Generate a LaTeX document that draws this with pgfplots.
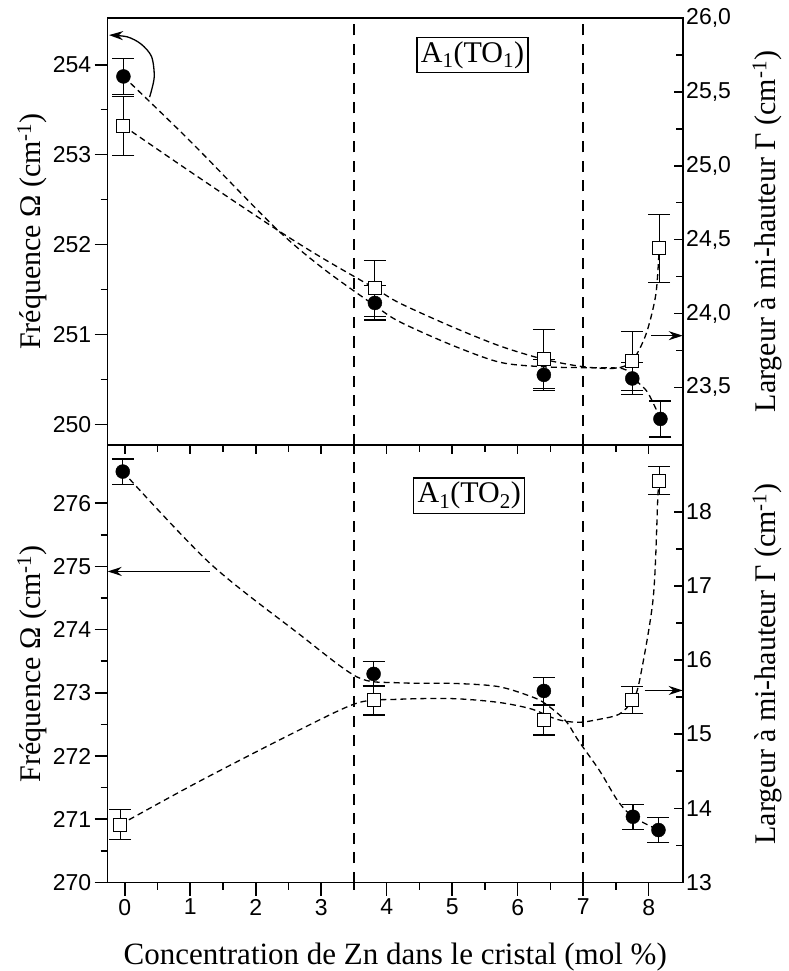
\documentclass[border=0pt]{standalone}
\usepackage{fontspec}
\setmainfont{Liberation Serif}
\newfontfamily\tickfont{Liberation Sans}
\usepackage{pgfplots}
\pgfplotsset{compat=1.18}
\usetikzlibrary{arrows.meta}

\pgfplotstableread{
x y e
-0.02 253.87 0.20
3.82 251.35 0.19
6.40 250.55 0.17
7.75 250.51 0.18
8.18 250.06 0.20
}\topcirc
\pgfplotstableread{
x y e
-0.02 25.27 0.20
3.82 24.17 0.19
6.40 23.69 0.20
7.75 23.68 0.20
8.16 24.44 0.23
}\topsq
\pgfplotstableread{
x y e
-0.03 276.50 0.20
3.80 273.30 0.20
6.40 273.03 0.21
7.76 271.04 0.20
8.15 270.83 0.20
}\botcirc
\pgfplotstableread{
x y e
-0.07 13.78 0.20
3.80 15.46 0.20
6.40 15.19 0.20
7.75 15.46 0.18
8.16 18.42 0.19
}\botsq

\tikzset{
  vline/.style={line width=2.6pt, dash pattern=on 11pt off 8.5pt, black},
  arr/.style={line width=1.3pt, -{Stealth[length=14pt, width=9pt]}},
}
\pgfplotsset{
  common/.style={
    scale only axis, width=575pt, xmin=-0.26, xmax=8.52,
    axis line style={line width=1.6pt},
    every tick/.style={line width=1.6pt, black},
    tick label style={font=\tickfont\fontsize{23}{23}\selectfont},
    /pgf/number format/assume math mode=true,
    label style={font=\fontsize{30}{34}\selectfont},
    clip=false,
  },
  leftax/.style={common, ytick pos=left, tick align=outside,
    major tick length=13pt, minor tick length=7pt,
    ylabel={Fréquence Ω (cm\textsuperscript{-1})},
    ylabel style={at={(axis description cs:-0.132,0.5)}, anchor=center}},
  rightax/.style={common, axis y line*=right, tick align=inside,
    major tick length=9pt, minor tick length=6.5pt,
    ylabel={Largeur à mi-hauteur Γ (cm\textsuperscript{-1})},
    ylabel style={at={(axis description cs:1.147,0.5)}, anchor=center}},
  circ/.style={only marks, mark=*, mark size=7pt, black,
    error bars/.cd, y dir=both, y explicit,
    error bar style={line width=1.2pt, black},
    error mark options={rotate=90, mark size=11pt, line width=1.2pt, black}},
  sq/.style={only marks, mark=square*, mark size=6.5pt, black,
    mark options={fill=white, line width=1pt},
    error bars/.cd, y dir=both, y explicit,
    error bar style={line width=1.2pt, black},
    error mark options={rotate=90, mark size=11pt, line width=1.2pt, black}},
  fit/.style={smooth, tension=0.5, line width=1.3pt, dash pattern=on 6pt off 4pt, black, no marks},
}

\begin{document}
\begin{tikzpicture}
\path[use as bounding box] (-107.7pt,18pt) rectangle (681.3pt,-953pt);

% ---------- top panel, left axis ----------
\begin{axis}[leftax, at={(0pt,0pt)}, anchor=north west, height=427pt,
  ymin=249.77, ymax=254.52, ytick={250,251,252,253,254}, minor y tick num=1,
  xtick=\empty]
\draw[vline] (axis cs:3.5,249.77) -- (axis cs:3.5,254.52);
\draw[vline] (axis cs:7,249.77) -- (axis cs:7,254.52);
\addplot[fit] coordinates {(-0.02,253.87) (1.0,253.15) (2.28,252.2) (3.0,251.75) (3.82,251.32) (4.2,251.14) (5.0,250.88) (5.73,250.69) (6.4,250.64) (7.0,250.63) (7.6,250.62) (7.75,250.52) (7.98,250.36) (8.18,250.06)};
\addplot[circ] table[x=x, y=y, y error=e] {\topcirc};
\draw[arr] plot[smooth] coordinates {(axis cs:0.38,253.64) (axis cs:0.45,253.86) (axis cs:0.41,254.09) (axis cs:0.25,254.23) (axis cs:0.04,254.31) (axis cs:-0.24,254.33)};
\node[draw, line width=1.2pt, inner sep=4pt, font=\fontsize{30}{30}\selectfont] at (axis cs:5.31,254.11) {A\textsubscript{1}(TO\textsubscript{1})};
\end{axis}

% ---------- top panel, right axis ----------
\begin{axis}[rightax, at={(0pt,0pt)}, anchor=north west, height=427pt,
  axis x line=none, ymin=23.11, ymax=26.0, ytick={23.5,24,24.5,25,25.5,26}, minor y tick num=1,
  yticklabel style={/pgf/number format/.cd, fixed, fixed zerofill, precision=1, use comma}]
\addplot[fit] coordinates {(-0.02,25.27) (1.0,24.96) (2.28,24.58) (3.0,24.38) (3.82,24.17) (4.2,24.07) (5.0,23.91) (5.73,23.78) (6.4,23.69) (7.0,23.64) (7.5,23.63) (7.75,23.68) (7.96,23.86) (8.11,24.13) (8.16,24.44)};
\addplot[sq] table[x=x, y=y, y error=e] {\topsq};
\draw[arr] (axis cs:8.04,23.85) -- (axis cs:8.52,23.85);
\end{axis}

% ---------- bottom panel, left axis ----------
\begin{axis}[leftax, at={(0pt,-427pt)}, anchor=north west, height=437.5pt,
  ymin=270, ymax=276.92, ytick={270,...,276}, minor y tick num=1,
  xtick={0,...,8}, minor x tick num=1, xtick pos=bottom,
  xlabel={Concentration de Zn dans le cristal (mol \%)},
  xlabel style={at={(axis description cs:0.5,-0.170)}, anchor=center, font=\fontsize{31}{34}\selectfont}]
\draw[vline] (axis cs:3.5,270) -- (axis cs:3.5,276.92);
\draw[vline] (axis cs:7,270) -- (axis cs:7,276.92);
\addplot[fit] coordinates {(-0.03,276.5) (1.3,275.05) (2.65,273.94) (3.55,273.25) (4.15,273.16) (5.0,273.15) (5.7,273.1) (6.21,272.94) (6.42,272.83) (6.73,272.56) (6.93,272.24) (7.25,271.77) (7.53,271.29) (7.76,271.04) (8.15,270.83)};
\addplot[circ] table[x=x, y=y, y error=e] {\botcirc};
\draw[arr] (axis cs:1.3,274.92) -- (axis cs:-0.26,274.92);
\node[draw, line width=1.2pt, inner sep=4pt, font=\fontsize{30}{30}\selectfont] at (axis cs:5.26,276.12) {A\textsubscript{1}(TO\textsubscript{2})};
\end{axis}

% ---------- bottom panel, right axis ----------
\begin{axis}[rightax, at={(0pt,-427pt)}, anchor=north west, height=437.5pt,
  axis x line*=top, xtick={0,...,8}, minor x tick num=1, xticklabels={},
  ymin=13, ymax=18.9, ytick={13,...,18}, minor y tick num=1]
\addplot[fit] coordinates {(-0.07,13.78) (1.13,14.36) (2.65,15.05) (3.55,15.42) (4.15,15.47) (5.0,15.48) (5.7,15.43) (6.21,15.34) (6.6,15.2) (6.93,15.16) (7.24,15.2) (7.55,15.27) (7.75,15.45) (7.86,15.72) (8.07,16.84) (8.14,18.19) (8.16,18.42)};
\addplot[sq] table[x=x, y=y, y error=e] {\botsq};
\draw[arr] (axis cs:7.94,15.59) -- (axis cs:8.52,15.59);
\end{axis}
\end{tikzpicture}
\end{document}
